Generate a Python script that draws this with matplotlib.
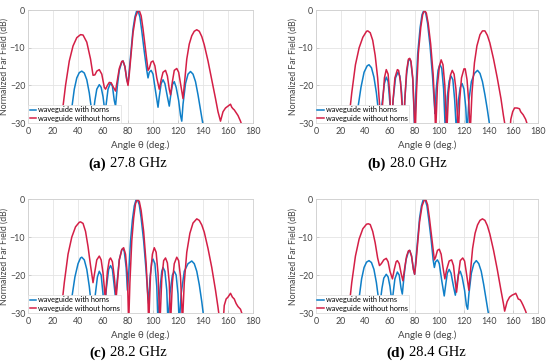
import matplotlib
matplotlib.use("Agg")
import matplotlib.pyplot as plt

# ---- data: (angle deg, normalized far field dB) ----
a_red = [(26, -31), (30, -20), (33, -13.5), (36, -9.5), (39, -7.3), (42, -6.5), (44, -6.6), (47, -8.5),
         (50, -13), (52, -17.3), (53.5, -17.2), (55, -16.2), (57, -15.8), (59, -17), (61, -20.5), (62, -21),
         (63.5, -20), (65, -19.2), (66.5, -19.3), (68, -20.3), (70, -21.5), (71.5, -18.5), (73, -15.5),
         (75, -13.6), (76, -13.5), (77.5, -15), (79, -18.5), (80, -20), (81, -17), (82.5, -11.5), (84, -6),
         (86, -1.8), (88, -0.1), (89, -0.1), (90.5, -1.5), (92, -5), (94, -10.5), (96, -16), (97, -15.5),
         (98.5, -13.8), (100, -13.5), (101.5, -14.8), (103, -18), (105, -21), (106.5, -18.5), (108, -16.5),
         (110, -16), (111.5, -17.5), (113, -21), (114, -22.5), (115.5, -19), (117, -16), (119, -15.5),
         (120.5, -16.5), (122, -19.5), (124, -23.5), (125, -20), (127, -13), (129, -9), (131, -6.8),
         (133, -5.6), (135, -5.2), (137, -5.6), (139, -7), (141, -9.2), (144, -13.5), (147, -18.5),
         (150, -23.5), (152, -27), (154, -29.5), (156, -27), (158, -26), (160, -25.5), (162, -25),
         (163, -25.8), (164, -26.2), (165, -26.5), (166, -27), (168, -28), (170, -29.5), (171, -30.5)]
a_blue = [(33, -31), (35, -26), (37, -21), (39, -18), (41, -16.6), (43, -16.2), (45, -16.7), (47, -18.5),
          (49, -22), (51, -27), (52, -28), (53.5, -24), (55, -21), (57, -19.8), (58.5, -20.5), (60, -23),
          (61.5, -27), (62.5, -25), (64, -21), (66, -19.3), (67.5, -20.2), (69, -24), (70, -25.5),
          (71.5, -20), (73, -16), (75, -13.8), (76, -13.5), (77.5, -15), (79, -18.5), (80, -19.5), (81, -16),
          (82.5, -10.5), (84, -5), (85.5, -1.8), (87, -0.1), (88, -0.1), (89.5, -1.8), (91, -5.5), (93, -11),
          (95, -16), (96, -18), (97, -16.5), (98.5, -16), (100, -17), (102, -21.5), (104, -25.8), (105, -23),
          (106.5, -19.5), (108, -18.5), (109.5, -19.5), (111.5, -23), (113, -25.5), (114, -23),
          (115.5, -19.8), (117, -19), (118.5, -20.5), (120.5, -24), (122, -28), (123, -29.5), (124, -25),
          (126, -19.5), (128, -17), (130, -16.3), (132, -17), (134, -19), (136, -22.5), (138, -26.5),
          (140, -30.5)]

b_red = [(26, -31), (29, -22), (32, -14.5), (35, -10), (38, -7.2), (41, -5.6), (42, -5.5), (44, -6), (46, -8),
         (48, -12), (50, -18), (52, -27), (53, -33), (54, -25), (55.5, -18), (57, -15.8), (58.5, -17),
         (60, -23), (61, -33), (62.5, -24), (64, -18), (66, -15.8), (67, -16), (68.5, -19), (70, -26),
         (71, -33), (72, -24), (73.5, -16), (75, -13), (76, -12.8), (77, -13.5), (78.5, -18), (80, -30),
         (80.5, -33), (81.5, -22), (83, -11.5), (85, -4.5), (86.5, -1.2), (88, 0), (89.5, -0.8), (91, -3.5),
         (93, -9), (95, -17), (96.5, -27), (97, -33), (98.5, -20), (100, -15), (101.5, -13.2), (103, -14.5),
         (104.5, -20), (106, -33), (107.5, -22), (109, -17.3), (110.5, -16), (112, -17), (113.5, -21),
         (115, -30), (115.5, -33), (116.5, -24), (118, -18), (120, -15.6), (121, -15.6), (122.5, -18.5),
         (124, -25), (125, -33), (126.5, -22), (128.5, -14), (130.5, -9.5), (133, -6.5), (135, -5.5),
         (137, -5.5), (139, -6.7), (141, -8.7), (144, -13), (147, -18), (150, -23.5), (152, -28),
         (154, -32), (155, -33), (157, -33), (158, -29), (159.5, -27), (161, -26), (163, -26),
         (165, -26.2), (166, -27), (168, -27.8), (170, -29), (172, -31)]
b_blue = [(32, -31), (34, -26), (36.5, -20.5), (39, -16.5), (41.5, -14.8), (43, -14.5), (45, -15.3),
          (47, -17.8), (49, -22), (51, -28), (52, -33), (53.5, -25), (55.5, -19.5), (57, -17.8),
          (58.5, -19), (60, -25), (61, -33), (62.5, -24), (64.5, -18), (66.5, -16.5), (68, -17.5),
          (69.5, -22), (71, -33), (72, -24), (73.5, -17), (75, -13.3), (76, -13), (77, -13.8), (78.5, -18.5),
          (79.5, -27), (80, -33), (81, -22), (82.5, -11.5), (84.5, -4.5), (86, -1.2), (87.5, 0), (89, -0.8),
          (90.5, -3.5), (92.5, -9.5), (94.5, -17.5), (96, -25), (96.5, -27.5), (97.5, -21), (99, -16),
          (100.5, -14.4), (102, -15.5), (103.5, -21), (105, -33), (106.5, -23), (108, -18.8),
          (109.5, -17.5), (111, -18.5), (112.5, -24), (114, -33), (115.5, -24), (117, -20.5),
          (118.5, -19.5), (120, -21), (121.5, -26), (122.5, -33), (124, -24), (126, -19), (128.5, -16.8),
          (131, -16), (133, -16.8), (135, -19), (137, -22.5), (139, -26.5), (141, -31)]

c_red = [(26, -31), (29, -22), (32, -14.5), (35, -10), (38, -7.3), (41, -6.1), (42, -6), (44, -6.4),
         (46, -8.5), (48, -12.5), (50, -17.5), (52, -22), (53.5, -19), (55, -16), (57, -15), (58.5, -16),
         (60, -19.5), (61.5, -25), (62, -25.5), (63.5, -19), (65, -16), (66, -15.5), (67.5, -16.5),
         (69, -20.5), (70.5, -26), (71.5, -22), (73, -16), (75, -13.3), (76.5, -12.8), (78, -14.5),
         (79.5, -20), (80.5, -33), (81.5, -22), (83, -11), (84.5, -5), (86, -1.2), (87.5, 0), (89, -0.6),
         (90.5, -3), (92.5, -8.5), (94.5, -17), (96, -27), (96.5, -33), (98, -20), (99.5, -14.5),
         (101, -12.8), (102.5, -14), (104, -19.5), (105.5, -33), (107, -21), (108.5, -16.2), (110, -15.5),
         (111.5, -16.8), (113, -22), (114, -33), (115.5, -22), (117, -17), (119, -15.3), (120.5, -16.2),
         (122, -20.5), (123, -28), (123.5, -33), (125, -22), (127, -14), (129.5, -9), (132, -6.3),
         (135, -5.2), (137, -5.6), (139, -6.8), (141, -8.7), (144, -13), (147, -18), (150, -24),
         (152, -28.5), (153, -31), (154, -33), (156, -33), (157, -28), (158.5, -26.3), (160, -25.8),
         (162, -24.8), (163.5, -25.8), (165, -26.3), (166.5, -27.5), (168, -28.3), (170, -29), (172, -31)]
c_blue = [(33, -31), (35, -26), (37.5, -20.5), (40, -17), (42, -15.5), (43, -15.3), (45, -16), (47, -18.5),
          (49, -23), (51, -29), (52, -33), (53.5, -26), (55.5, -20.5), (57, -19), (58.5, -20), (60, -25),
          (61, -33), (62.5, -24), (64.5, -18.5), (66, -17.5), (67.5, -18.5), (69, -23), (70, -26),
          (71.5, -21), (73, -16), (75, -13.3), (76, -13), (77, -13.8), (78.5, -18), (79.5, -24), (80.5, -20),
          (82, -11), (83.5, -5.5), (85, -1.8), (86.5, -0.1), (87.5, -0.1), (89, -1.5), (90.5, -5),
          (92.5, -11), (94.5, -19), (96, -26), (96.5, -27.5), (97.5, -21), (99, -16.5), (100, -15.8),
          (101.5, -17), (103, -23), (104, -33), (105.5, -24), (107, -19), (108, -18), (109.5, -19),
          (111, -24), (112, -33), (113.5, -25), (115.5, -20), (117, -19), (118.5, -20), (120, -25),
          (121, -33), (122.5, -25), (125, -19), (128, -17), (131, -16.3), (133, -17), (135, -19),
          (137, -22.5), (139, -27), (140.5, -31)]

d_red = [(26, -31), (29, -22), (32, -15), (35, -10.5), (38, -7.8), (41, -6.6), (42.5, -6.5), (44, -6.7),
         (46, -8.5), (48, -11.5), (50, -15.5), (51.5, -17.5), (53, -17), (55, -16), (57, -15.6),
         (58.5, -16.5), (60, -19), (62, -21), (63.5, -18.5), (65, -16.5), (66, -16.2), (67.5, -17),
         (69, -19.5), (70.5, -21.5), (72, -18), (73.5, -15), (75, -13.6), (76, -13.5), (77.5, -15),
         (79, -18.5), (80, -19.8), (81, -17), (82.5, -11.5), (84, -6), (86, -1.8), (88, -0.1), (89, -0.1),
         (90.5, -1.5), (92, -5), (94, -10.5), (96, -16), (97, -15.3), (98.5, -13.5), (100, -13.2),
         (101.5, -14.5), (103, -18), (104.5, -21), (106, -18.5), (108, -16.3), (110, -16), (111.5, -17.5),
         (113, -22), (114, -24.5), (115.5, -20), (117, -16.2), (119, -15.5), (120.5, -16.3), (122, -19.5),
         (124, -24), (125, -20), (127, -13), (129, -9), (131, -6.8), (133, -5.6), (135, -5.2), (137, -5.6),
         (139, -7), (141, -9.2), (144, -13.5), (147, -18.5), (150, -24), (152, -27.5), (153, -29.5),
         (155, -27), (157, -25.8), (159, -25.3), (161, -25), (162, -24.8), (163, -25.5), (164, -26.3),
         (165.5, -26.5), (166.5, -27), (168, -28), (170, -29.5), (171, -30.5)]
d_blue = [(33, -31), (35, -26), (37, -21), (39, -18), (41, -16.6), (43, -16.2), (45, -16.7), (47, -18.5),
          (49, -22), (51, -27), (52, -27.5), (53.5, -23.5), (55, -20.8), (57, -19.8), (58.5, -20.5),
          (60, -23), (61.5, -27), (62.5, -25), (64, -21), (66, -19.2), (67.5, -20), (69, -23.5), (70, -25),
          (71.5, -20), (73, -16), (75, -13.8), (76, -13.5), (77.5, -15), (79, -18.5), (80, -19.8), (81, -16),
          (82.5, -10.5), (84, -5), (85.5, -1.8), (87, -0.1), (88.5, -0.1), (90, -1.8), (91.5, -5.5),
          (93.5, -11), (95, -16), (96, -18), (97, -16.5), (98.5, -16), (100, -17), (102, -21.5),
          (104, -25.5), (105, -23), (106.5, -19.5), (108, -18.5), (109.5, -19.5), (111.5, -23),
          (113, -25.3), (114, -23), (115.5, -19.8), (117, -19), (118.5, -20.5), (120.5, -24), (122, -28),
          (123, -29), (124, -25), (126, -19.5), (128, -17), (130, -16.2), (132, -17), (134, -19),
          (136, -22.5), (138, -26.5), (140, -30.5)]

panel_tags = ["(a)", "(b)", "(c)", "(d)"]
panel_freqs = ["27.8 GHz", "28.0 GHz", "28.2 GHz", "28.4 GHz"]
series_labels = ["waveguide with horns", "waveguide without horns"]
x_ticks = [0, 20, 40, 60, 80, 100, 120, 140, 160, 180]
y_ticks = [0, -10, -20, -30]

BLUE = "#0f7fc8"
RED = "#d41f46"
GRIDC = "#e4e4e4"
TXT = "#444444"
FONT = "Lato"

# axes rectangles [left, bottom, width, height] in figure fraction
rects = [[0.051, 0.662, 0.409, 0.310], [0.5745, 0.662, 0.4036, 0.310],
         [0.051, 0.140, 0.409, 0.313], [0.5745, 0.140, 0.4036, 0.313]]
# right edge of the bold tag, baseline of the caption
caption_xy = [(0.193, 0.540), (0.702, 0.540), (0.193, 0.021), (0.736, 0.021)]

fig = plt.figure(figsize=(5.5, 3.64), dpi=100)
data = [(a_blue, a_red), (b_blue, b_red), (c_blue, c_red), (d_blue, d_red)]

for i, (blue, red) in enumerate(data):
    ax = fig.add_axes(rects[i])
    ax.plot([p[0] for p in blue], [p[1] for p in blue], color=BLUE, lw=1.1,
            label=series_labels[0])
    ax.plot([p[0] for p in red], [p[1] for p in red], color=RED, lw=1.1,
            label=series_labels[1])
    ax.set_xlim(0, 180)
    ax.set_ylim(-30, 0)
    ax.set_xticks(x_ticks)
    ax.set_yticks(y_ticks)
    ax.grid(True, color=GRIDC, lw=0.6)
    ax.set_axisbelow(True)
    for s in ax.spines.values():
        s.set_color("#d0d0d0")
        s.set_linewidth(0.6)
    ax.tick_params(direction="in", length=2, width=0.5, color="#c0c0c0",
                   labelsize=6.4, labelcolor=TXT)
    ax.tick_params(axis="x", pad=3)
    ax.tick_params(axis="y", pad=2)
    for lab in ax.get_xticklabels() + ax.get_yticklabels():
        lab.set_family(FONT)
    ax.set_xlabel("Angle θ (deg.)", fontsize=7, color=TXT, family=FONT, labelpad=3)
    ax.set_ylabel("Normalized Far Field (dB)", fontsize=6.3, color=TXT, family=FONT)
    ax.yaxis.set_label_coords(-0.085, 0.5)
    leg = ax.legend(loc="lower left", handlelength=0.9, handletextpad=0.2,
                    borderaxespad=0, borderpad=0.2, labelspacing=0.15, fancybox=False,
                    framealpha=1, edgecolor="#dddddd", prop={"family": FONT, "size": 5.3})
    leg.get_frame().set_linewidth(0.5)
    cx, cy = caption_xy[i]
    fig.text(cx, cy, panel_tags[i], fontsize=11, fontweight="bold", family="Liberation Serif",
             ha="right", va="baseline")
    fig.text(cx + 0.007, cy, panel_freqs[i], fontsize=10.5, family="Liberation Serif",
             ha="left", va="baseline")

fig.savefig("out.png", dpi=100)
